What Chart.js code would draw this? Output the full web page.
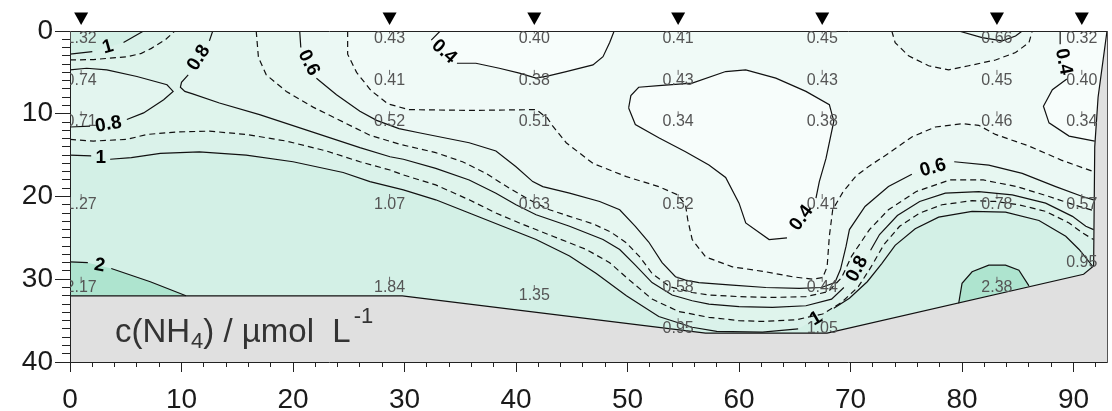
<!DOCTYPE html>
<html><head><meta charset="utf-8">
<script src="https://cdn.jsdelivr.net/npm/chart.js@4"></script>
<style>html,body{margin:0;padding:0;background:#fff}#wrap{width:1112px;height:411px}</style>
</head><body><div id="wrap"><canvas id="c" width="1112" height="411"></canvas></div>
<script>
// ---------- station data ----------
const stationX = [1.0, 28.66, 41.64, 54.54, 67.46, 83.13, 90.74];
const depthsS1 = [0, 5, 10, 20, 30],      valuesS1 = ['1.32','0.74','0.71','1.27','2.17'];
const depthsS2 = [0, 5, 10, 20, 30],      valuesS2 = ['0.43','0.41','0.52','1.07','1.84'];
const depthsS3 = [0, 5, 10, 20, 31],      valuesS3 = ['0.40','0.38','0.51','0.63','1.35'];
const depthsS4 = [0, 5, 10, 20, 30, 35],  valuesS4 = ['0.41','0.43','0.34','0.52','0.58','0.95'];
const depthsS5 = [0, 5, 10, 20, 30, 35],  valuesS5 = ['0.45','0.43','0.38','0.41','0.44','1.05'];
const depthsS6 = [0, 5, 10, 20, 30],      valuesS6 = ['0.66','0.45','0.46','0.78','2.38'];
const depthsS7 = [0, 5, 10, 20, 27],      valuesS7 = ['0.32','0.40','0.34','0.57','0.95'];

// ---------- section boundary (distance, depth) ----------
const bottomBoundary = [[0,32.0],[29.8,32.0],[57,36.5],[67.9,36.5],[90.9,29.4]];
const rightBoundary  = [[90.9,29.4],[91.8,28.4],[91.9,14],[92.2,8],[93,0]];

// ---------- contour lines (distance, depth); null = gap for label ----------
const c04a = [[33.2,0],[32.4,1.1],null,[34.7,3.9],[36.4,3.9],[38.5,4.5],[40.3,5.1],[41.8,5.7],[43.0,5.4],[44.5,4.9],[46.9,4.1],[47.8,3.1],[48.4,1.4],[48.8,0]];
const c04b = [[50.1,9.3],[50.3,7.8],[51.0,6.8],[52.8,6.6],[55.8,6.3],[58.8,4.9],[60.6,4.7],[63.3,5.7],[66.0,7.3],[68.1,8.9],[68.5,10.9],[67.8,15.4],[67.2,18.2],[66.9,20.2],null,[64.3,25.0],[62.7,25.2],[60.6,23.2],[60.0,20.8],[58.8,17.7],[57.3,16.2],[55.2,14.6],[52.8,12.9],[50.7,11.3],[50.1,9.3]];
const c04c = [[88.8,0],[88.8,1.6],null,[89.4,5.8],[88.1,7.1],[87.3,9.1],[87.8,11.1],[89.6,12.7],[91.9,13.3]];
const c05a = [[24.9,0],[24.9,2.8],[25.7,5.0],[27.0,7.2],[28.5,8.8],[30.4,9.5],[36,9.6],[41.8,9.5],[42.8,10.5],[43.3,11.5],[44.5,13.5],[46.9,16.0],[49.9,17.6],[52.8,18.8],[54.5,19.8],[55.2,21],[55.4,22.8],[55.8,25.2],[57.0,27.3],[59.4,28.5],[62.4,29.1],[64.8,29.7],[66.6,30.0],[67.5,29.8],[67.9,28.5],[68.1,24.8],[68.4,21.6],[69.3,19.5],[70.5,17.5],[71.7,16.3],[73.4,14.8],[75.5,12.8],[77.6,11.6],[80,11.2],[81.5,11.4],[83,12.5],[86,13.9],[88.9,15.6],[91.8,17.0]];
const c05b = [[73.7,0],[74.0,1.4],[75.2,3.0],[77.0,4.2],[78.8,4.7],[80.6,4.2],[83.0,3.5],[84.8,2.6],[86.0,1.4],[86.3,0]];
const c06a = [[20.6,0],[20.7,2.0],null,[22.1,5.7],[23.9,7.7],[26.0,9.7],[27.5,10.8],[29.5,11.8],[31.3,12.3],[35.8,13.5],[38.2,14.5],[40.0,16.4],[41.5,18.2],[42.4,18.8],[44.8,19.6],[47.5,20.6],[49.3,21.6],[50.7,23.6],[51.9,25.5],[53.1,28.0],[54.3,29.7],[55.2,30.1],[56.4,30.4],[59.4,30.7],[62.4,31.0],[65.4,31.1],[67.4,31.0],[68.6,30.4],[69.1,28.8],[69.6,26.0],[69.9,24.0],[71.3,21.2],[73.4,18.8],[75.5,17.3],null,[79.3,15.8],[82.4,16.2],[85.4,17.2],[88.4,18.8],[90.8,20.0],[91.8,20.4]];
const c06b = [[79.7,0],[81.8,0.8],[83.6,1.2],[84.8,0.6],[85.4,0]];
const c07a = [[16.7,0],[16.9,3.2],[17.6,5.3],[19.4,7.3],[21.8,9.2],[24.5,11.0],[26.9,12.6],[29.6,13.7],[32.8,14.7],[35.2,15.8],[37.3,17.2],[39.4,19.0],[41.2,20.4],[43.0,21.6],[44.8,22.4],[46.9,23.3],[48.5,24.3],[49.9,25.6],[51.1,27.3],[52.2,29.3],[53.8,30.9],[55.8,31.6],[57.3,31.9],[60.0,32.1],[63,32.2],[66,32.1],[68.0,31.5],[69.2,29.8],[70.1,27.2],[71.7,24.0],[73.4,21.6],[75.9,19.4],[78.9,18.0],[81.9,18.0],[84.9,18.8],[87.8,20.0],[90.5,21.2],[91.8,21.7]];
const c08a = [[12.8,0],[12.5,1.2],null,[10.6,5.3],[10.0,6.2],[9.9,6.8],[10.3,7.3],[11.0,7.6],[13.4,8.7],[17.0,10.1],[21.5,12.1],[26.0,14.1],[28.7,15.2],[29.9,15.5],[32.8,16.6],[35.8,18.0],[38.2,19.6],[40.0,21.0],[41.8,22.2],[44.8,23.6],[47.8,25.2],[49.3,26.4],[50.7,28.3],[52.2,30.4],[54.0,31.9],[55.8,32.6],[57.3,33.0],[60,33.3],[63,33.4],[66,33.2],[68.3,32.4],[69.4,31.0],null,[71.8,26.5],[72.6,24.6],[74.2,22.3],[76.2,20.6],[78.5,19.6],[81.5,19.4],[84.5,19.8],[87.5,20.8],[89.9,22.4],[91.1,23.6],[91.8,24.0]];
const c08loop = [[0,4.7],[1.5,4.5],[3.3,4.7],[6.0,5.5],[8.7,6.5],[9.25,7.3],[8.4,8.3],[6.6,9.9],[5.1,10.7],null,[1.8,11.5],[0,11.6]];
const c09a = [[0,13.1],[2.1,13.3],[5.1,13.1],[6.9,12.5],[9.55,12.2],[12.5,12.1],[15.8,12.5],[19.4,13.3],[23.0,14.5],[26.0,15.8],[28.7,16.8],[29.9,17.4],[32.8,18.6],[35.8,20.4],[38.2,22.0],[40.3,23.2],[43.3,24.8],[46.3,26.4],[48.4,28.0],[50.0,29.9],[52.2,32.4],[54.6,33.9],[57.3,34.6],[60.0,35.0],[62.1,35.1],[65.1,34.9],[67.5,34.2],[69.2,32.8],[70.7,30.9],[71.8,28.6],[73.0,25.8],[74.4,23.6],[76.2,22.0],[78.2,21.0],[80.9,20.5],[83,20.6],[85.1,21.0],[87.5,21.8],[89.6,23.2],[90.8,24.4],[91.8,25.2]];
const c09top = [[0,3.5],[2.1,3.45],[5.2,3.1],[6.4,2.7],[7.3,2.1],[8.6,1.0],[9.4,0]];
const c10a = [[0,15.0],[1.9,15.1],null,[3.6,15.5],[5.5,15.3],[8.1,14.8],[11.6,14.6],[15.8,15.0],[20.0,15.8],[24.5,17.1],[26.9,18.2],[29.9,19.2],[32.8,20.4],[35.8,22.0],[38.8,23.6],[41.8,25.2],[44.8,27.2],[47.2,29.3],[49.9,32.0],[52.8,34.5],[55.8,35.8],[58,36.3],[62.1,36.4],[65.3,36.0],null,[68.5,33.5],[69.9,32.3],[71.5,30.3],[72.8,28.1],[74.0,25.9],[75.8,23.9],[77.9,22.5],[80.9,21.8],[83.9,21.9],[86.9,22.9],[89.3,24.8],[90.5,26.4],[91.7,28.4]];
const c10top = [[0,2.8],[2.0,2.5],null,[4.8,1.4],[5.7,0.7],[6.6,0]];
const c20a = [[0,27.9],[1.6,28.0],null,[3.7,28.7],[7.2,30.3],[10.4,32.0]];
const c20b = [[79.7,32.9],[80.0,30.5],[80.9,29.1],[82.4,28.3],[83.9,28.3],[85.1,28.9],[86.0,30.8]];

// ---------- contour labels ----------
const labelText = ['1','0.8','0.6','0.4','0.8','1','0.4','0.4','0.6','0.8','1','2'];
const labelX    = [3.4, 11.55, 21.4, 33.55, 3.45, 2.75, 65.6, 89.1, 77.4, 70.6, 66.9, 2.65];
const labelY    = [1.95, 3.25, 3.85, 2.5, 11.3, 15.3, 22.6, 3.7, 16.55, 28.75, 34.75, 28.35];
const labelAngle = [-16, -58, 63, 42, -10, 0, -54, 79, -16, -62, -30, 10];

// ---------- tick values ----------
const xTickStep = 10, xMinorStep = 2, yTickStep = 10, yMinorStep = 1;

// ---------- styling ----------
const band = {lt04:'#f7fdfb', b04:'#f0faf7', b05:'#ebf8f4', b06:'#e7f7f1', b07:'#e3f5ef', b08:'#dff4ec', b09:'#daf2ea', b10:'#d3f0e6', b20:'#aee4cf', grey:'#e0e0e0'};
const FONT = '"Liberation Sans", Arial, sans-serif';

const stations = [[depthsS1,valuesS1],[depthsS2,valuesS2],[depthsS3,valuesS3],[depthsS4,valuesS4],[depthsS5,valuesS5],[depthsS6,valuesS6],[depthsS7,valuesS7]];

function P(arr){ return arr.map(p => p ? {x:p[0], y:p[1]} : {x:null, y:null}); }
function spur(poly){
  let iMin = 0, iMax = 0;
  poly.forEach((p,i)=>{ if(p[0] < poly[iMin][0]) iMin = i; if(p[0] > poly[iMax][0]) iMax = i; });
  const r = poly.slice(iMin).concat(poly.slice(0, iMin));
  return r.concat([r[0], poly[iMax]]);
}
function region(line){
  const L = line.filter(Boolean);
  const first = L[0], last = L[L.length-1];
  const rb = rightBoundary.filter(p => p[1] > last[1]).sort((a,b) => a[1]-b[1]);
  const bb = bottomBoundary.slice().reverse().slice(1);
  const poly = L.concat(rb, bb);
  if (first[1] === 0) poly.push([0,0]);
  return poly;
}
function closed(line, extra){ return line.filter(Boolean).concat(extra || []); }
function fillDS(poly, color, order){
  return {data:P(spur(poly)), showLine:true, fill:'shape', backgroundColor:color, borderColor:'rgba(0,0,0,0)', borderWidth:0, pointRadius:0, order};
}
function lineDS(line, dashed){
  return {data:P(line), showLine:true, fill:false, borderColor:'#111', borderWidth:1.2, borderDash: dashed ? [6,4] : [], pointRadius:0, spanGaps:false, order:50};
}

const domain = [[0,0],[93,0]].concat(rightBoundary.slice().reverse().slice(1), bottomBoundary.slice().reverse().slice(1));
const greyMask = bottomBoundary.concat(rightBoundary.slice(1), [[93.6,0],[93.6,41],[0,41]]);

const datasets = [
  fillDS(domain, band.b04, 200),
  fillDS(closed(c04a), band.lt04, 190),
  fillDS(closed(c04b), band.lt04, 190),
  fillDS(closed(c04c, [[92.2,8],[93,0]]), band.lt04, 190),
  fillDS(region(c05a), band.b05, 180),
  fillDS(closed(c05b), band.b05, 180),
  fillDS(region(c06a), band.b06, 170),
  fillDS(closed(c06b), band.b06, 170),
  fillDS(region(c07a), band.b07, 160),
  fillDS(region(c08a), band.b08, 150),
  fillDS(closed(c08loop), band.b07, 145),
  fillDS(region(c09a), band.b09, 140),
  fillDS(closed(c09top, [[0,0]]), band.b09, 140),
  fillDS(region(c10a), band.b10, 130),
  fillDS(closed(c10top, [[0,0]]), band.b10, 130),
  fillDS(closed(c20a, [[0,32]]), band.b20, 120),
  fillDS(closed(c20b), band.b20, 120),
  fillDS(greyMask, band.grey, 100),
  lineDS(c04a,false), lineDS(c04b,false), lineDS(c04c,false),
  lineDS(c05a,true), lineDS(c05b,true),
  lineDS(c06a,false), lineDS(c06b,false),
  lineDS(c07a,true),
  lineDS(c08a,false), lineDS(c08loop,false),
  lineDS(c09a,true), lineDS(c09top,true),
  lineDS(c10a,false), lineDS(c10top,false),
  lineDS(c20a,false), lineDS(c20b,false),
  {data:P(bottomBoundary.concat(rightBoundary.slice(1))), showLine:true, fill:false, borderColor:'#111', borderWidth:1.2, pointRadius:0, order:40},
  // sample marks
  {data: stations.flatMap((s,i) => s[0].map(d => ({x:stationX[i], y:d}))), showLine:false, pointStyle:'line', rotation:90, pointRadius:2.5, borderColor:'#666', borderWidth:1, backgroundColor:'#666', order:30}
];

const textPlugin = {
  id:'texts',
  afterDraw(chart){
    const {ctx, chartArea:a, scales:{x, y}} = chart;
    // station triangles above the section (positions from the x scale)
    ctx.save();
    ctx.fillStyle = '#000';
    stationX.forEach(sx => {
      const px = x.getPixelForValue(sx);
      ctx.beginPath(); ctx.moveTo(px - 7, 12.5); ctx.lineTo(px + 7, 12.5); ctx.lineTo(px, 25); ctx.closePath(); ctx.fill();
    });
    ctx.restore();

    ctx.save();
    ctx.beginPath(); ctx.rect(a.left, a.top, a.right-a.left, a.bottom-a.top); ctx.clip();
    ctx.font = '16px ' + FONT; ctx.fillStyle = '#555'; ctx.textAlign = 'center'; ctx.textBaseline = 'middle';
    stations.forEach((s,i) => s[0].forEach((d,j) => ctx.fillText(s[1][j], x.getPixelForValue(stationX[i]), y.getPixelForValue(d) + 8)));
    ctx.font = 'bold 19px ' + FONT; ctx.fillStyle = '#000';
    labelText.forEach((t,i) => {
      ctx.save();
      ctx.translate(x.getPixelForValue(labelX[i]), y.getPixelForValue(labelY[i]));
      ctx.rotate(labelAngle[i]*Math.PI/180);
      ctx.fillText(t, 0, 0);
      ctx.restore();
    });
    // title inside the grey sea-floor area
    ctx.textAlign = 'left'; ctx.textBaseline = 'alphabetic'; ctx.fillStyle = '#333';
    let px = x.getPixelForValue(4.03); const base = y.getPixelForValue(37.6);
    const big = '33px ' + FONT, small = '22px ' + FONT;
    ctx.font = big; ctx.fillText('c(NH', px, base); px += ctx.measureText('c(NH').width;
    ctx.font = small; ctx.fillText('4', px + 1, base + 6); px += ctx.measureText('4').width + 1;
    ctx.font = big; ctx.fillText(') / µmol  L', px, base); px += ctx.measureText(') / µmol  L').width;
    ctx.font = small; ctx.fillText('-1', px + 3, base - 19);
    ctx.restore();
  }
};

new Chart(document.getElementById('c'), {
  type:'scatter',
  data:{datasets},
  options:{
    responsive:false, animation:false, events:[],
    layout:{padding:{top:31, right:3, left:0, bottom:0}},
    plugins:{legend:{display:false}, tooltip:{enabled:false}},
    scales:{
      x:{type:'linear', position:'bottom', min:0, max:93, weight:1,
         ticks:{stepSize:xTickStep, includeBounds:false, autoSkip:false, maxRotation:0, maxTicksLimit:100, font:{family:FONT, size:28}, color:'#1a1a1a', padding:11},
         grid:{drawOnChartArea:false, tickLength:10, tickColor:'#222', tickWidth:1},
         border:{display:true, color:'#222', width:1, z:1},
         afterFit(s){ s.height = 49; }},
      xMin:{type:'linear', position:'bottom', min:0, max:93, weight:0,
         ticks:{stepSize:xMinorStep, includeBounds:false, display:false, maxTicksLimit:100, autoSkip:false},
         grid:{drawOnChartArea:false, tickLength:5, tickColor:'#222'},
         border:{display:false},
         afterFit(s){ s.height = 0; }},
      xTop:{type:'linear', position:'top', min:0, max:93,
         ticks:{display:false}, grid:{drawOnChartArea:false, drawTicks:false},
         border:{display:true, color:'#222', width:1, z:1},
         afterFit(s){ s.height = 0; }},
      y:{type:'linear', position:'left', min:0, max:40, reverse:true, weight:1,
         ticks:{stepSize:yTickStep, autoSkip:false, maxTicksLimit:100, font:{family:FONT, size:28}, color:'#1a1a1a', padding:2},
         grid:{drawOnChartArea:false, tickLength:15, tickColor:'#222'},
         border:{display:true, color:'#222', width:1, z:1},
         afterFit(s){ s.width = 70; }},
      yMin:{type:'linear', position:'left', min:0, max:40, reverse:true, weight:0,
         ticks:{stepSize:yMinorStep, display:false, maxTicksLimit:100, autoSkip:false},
         grid:{drawOnChartArea:false, tickLength:8, tickColor:'#222'},
         border:{display:false},
         afterFit(s){ s.width = 0; }},
      yRight:{type:'linear', position:'right', min:0, max:40, reverse:true,
         ticks:{display:false}, grid:{drawOnChartArea:false, drawTicks:false},
         border:{display:true, color:'#555', width:1, z:1},
         afterFit(s){ s.width = 0; }}
    }
  },
  plugins:[textPlugin]
});
</script></body></html>
